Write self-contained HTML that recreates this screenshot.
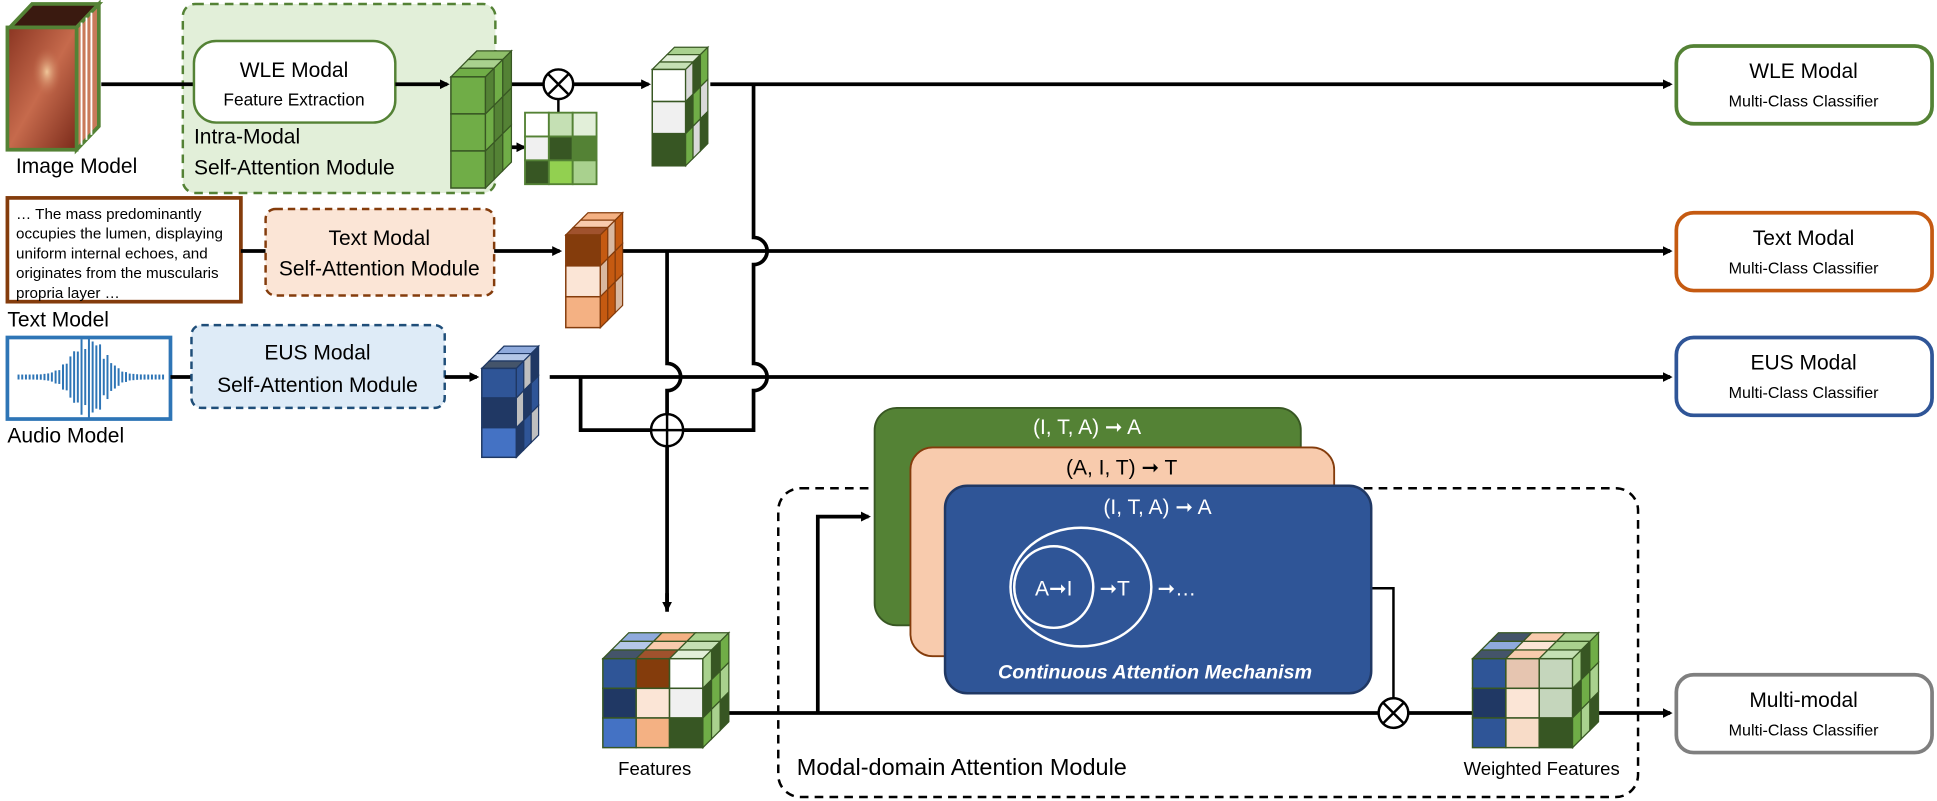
<!DOCTYPE html>
<html><head><meta charset="utf-8"><style>
html,body{margin:0;padding:0;background:#fff;}
svg{display:block;font-family:"Liberation Sans",Arial,sans-serif;}
</style></head><body>
<svg id="s" width="1937" height="801" viewBox="0 0 1568 648" xmlns="http://www.w3.org/2000/svg">
<defs>
<marker id="ar" markerWidth="8" markerHeight="8" refX="6" refY="4" orient="auto" markerUnits="userSpaceOnUse"><path d="M0,0 L8,4 L0,8 z" fill="#000"/></marker>
<linearGradient id="ph" x1="0" y1="0" x2="1" y2="1"><stop offset="0" stop-color="#8a3522"/><stop offset="0.5" stop-color="#c66a4c"/><stop offset="1" stop-color="#7a2a1a"/></linearGradient>
<radialGradient id="sp" cx="0.5" cy="0.5" r="0.5"><stop offset="0" stop-color="#f0c79a"/><stop offset="1" stop-color="#c0674a" stop-opacity="0"/></radialGradient>
</defs>
<rect width="1568" height="648" fill="#fff"/>

<!-- image cube -->
<polygon points="8,22 26,3 80,3 62,22" fill="#3a1a10" stroke="#548235" stroke-width="3"/>
<polygon points="62,22 80,3 80,102 62,121" fill="#c97a5a" stroke="#548235" stroke-width="3"/>
<g stroke="#fff" stroke-width="1.5"><line x1="66" y1="18" x2="66" y2="117"/><line x1="70" y1="14" x2="70" y2="113"/><line x1="74" y1="10" x2="74" y2="109"/></g>
<rect x="6" y="22" width="56" height="99" fill="url(#ph)" stroke="#548235" stroke-width="3"/>
<ellipse cx="38" cy="58" rx="12" ry="20" fill="url(#sp)"/>
<text x="62" y="140" font-size="17" text-anchor="middle">Image Model</text>

<!-- green dashed box -->
<rect x="148" y="3" width="253" height="153" rx="10" fill="#e2efd9" stroke="#548235" stroke-width="2" stroke-dasharray="7,5"/>
<line x1="82" y1="68" x2="157" y2="68" stroke="#000" stroke-width="3"/>
<rect x="157" y="33" width="163" height="66" rx="18" fill="#fff" stroke="#548235" stroke-width="2"/>
<text x="238" y="62" font-size="17" text-anchor="middle">WLE Modal</text>
<text x="238" y="85" font-size="14" text-anchor="middle">Feature Extraction</text>
<line x1="320" y1="68" x2="362" y2="68" stroke="#000" stroke-width="3" marker-end="url(#ar)"/>
<text x="157" y="116" font-size="17">Intra-Modal</text>
<text x="157" y="141" font-size="17">Self-Attention Module</text>
<line x1="396" y1="119" x2="424" y2="119" stroke="#000" stroke-width="3" marker-end="url(#ar)"/>
<line x1="405" y1="68" x2="440" y2="68" stroke="#000" stroke-width="3"/>
<line x1="464" y1="68" x2="525" y2="68" stroke="#000" stroke-width="3" marker-end="url(#ar)"/>
<line x1="452" y1="80" x2="452" y2="91" stroke="#000" stroke-width="2"/>
<circle cx="452" cy="68" r="12" fill="#fff" stroke="#000" stroke-width="2"/>
<path d="M443.5,59.5 L460.5,76.5 M460.5,59.5 L443.5,76.5" stroke="#000" stroke-width="2"/>
<g stroke="#548235" stroke-width="1.5">
<rect x="425" y="91" width="19.3" height="19.3" fill="#fff"/><rect x="444.3" y="91" width="19.3" height="19.3" fill="#c5e0b4"/><rect x="463.6" y="91" width="19.3" height="19.3" fill="#e2efd9"/>
<rect x="425" y="110.3" width="19.3" height="19.3" fill="#f0f0f0"/><rect x="444.3" y="110.3" width="19.3" height="19.3" fill="#375623"/><rect x="463.6" y="110.3" width="19.3" height="19.3" fill="#548235"/>
<rect x="425" y="129.6" width="19.3" height="19.3" fill="#375623"/><rect x="444.3" y="129.6" width="19.3" height="19.3" fill="#92d050"/><rect x="463.6" y="129.6" width="19.3" height="19.3" fill="#a9d18e"/>
</g>

<!-- main lines -->
<g stroke="#000" stroke-width="3" fill="none">
<line x1="575" y1="68" x2="1352" y2="68" marker-end="url(#ar)"/>
<line x1="490" y1="203" x2="1352" y2="203" marker-end="url(#ar)"/>
<line x1="445" y1="305" x2="1352" y2="305" marker-end="url(#ar)"/>
<path d="M610,68 V192 A11,11 0 0 1 610,214 V294 A11,11 0 0 1 610,316 V348 H470 V305"/>
<path d="M540,203 V294 A11,11 0 0 1 540,316 V495" />
<line x1="540" y1="480" x2="540" y2="493" marker-end="url(#ar)"/>
<line x1="575" y1="577" x2="1352" y2="577" marker-end="url(#ar)"/>
<path d="M662,577 V418 H703" marker-end="url(#ar)"/>
<path d="M1108,476 H1128 V565" stroke-width="2"/>
</g>
<circle cx="540" cy="348" r="13" fill="#fff" stroke="#000" stroke-width="2"/>
<path d="M527,348 H553 M540,335 V361" stroke="#000" stroke-width="2"/>

<!-- classifiers -->
<g fill="#fff" stroke-width="3">
<rect x="1357" y="37" width="207" height="63" rx="14" stroke="#548235"/>
<rect x="1357" y="172" width="207" height="63" rx="14" stroke="#c55a11"/>
<rect x="1357" y="273" width="207" height="63" rx="14" stroke="#2f5597"/>
<rect x="1357" y="546" width="207" height="63" rx="14" stroke="#7f7f7f"/>
</g>
<g text-anchor="middle">
<text x="1460" y="63" font-size="17">WLE Modal</text><text x="1460" y="86" font-size="13">Multi-Class Classifier</text>
<text x="1460" y="198" font-size="17">Text Modal</text><text x="1460" y="221" font-size="13">Multi-Class Classifier</text>
<text x="1460" y="299" font-size="17">EUS Modal</text><text x="1460" y="322" font-size="13">Multi-Class Classifier</text>
<text x="1460" y="572" font-size="17">Multi-modal</text><text x="1460" y="595" font-size="13">Multi-Class Classifier</text>
</g>

<!-- text row -->
<rect x="6" y="160" width="189" height="84" fill="#fff" stroke="#843c0c" stroke-width="3"/>
<g font-size="12.3">
<text x="13" y="177">… The mass predominantly</text>
<text x="13" y="193">occupies the lumen, displaying</text>
<text x="13" y="209">uniform internal echoes, and</text>
<text x="13" y="225">originates from the muscularis</text>
<text x="13" y="241">propria layer …</text>
</g>
<text x="6" y="264" font-size="17">Text Model</text>
<line x1="195" y1="203" x2="215" y2="203" stroke="#000" stroke-width="3"/>
<rect x="215" y="169" width="185" height="70" rx="8" fill="#fbe5d6" stroke="#843c0c" stroke-width="2" stroke-dasharray="6,4"/>
<text x="307" y="198" font-size="17" text-anchor="middle">Text Modal</text>
<text x="307" y="223" font-size="17" text-anchor="middle">Self-Attention Module</text>
<line x1="400" y1="203" x2="453" y2="203" stroke="#000" stroke-width="3" marker-end="url(#ar)"/>

<!-- audio row -->
<rect x="6" y="273" width="132" height="66" fill="#fff" stroke="#2e75b6" stroke-width="3"/>
<g id="wave" stroke="#2e75b6" stroke-width="1.6"></g>
<text x="6" y="358" font-size="17">Audio Model</text>
<line x1="138" y1="305" x2="155" y2="305" stroke="#000" stroke-width="3"/>
<rect x="155" y="263" width="205" height="67" rx="8" fill="#deebf7" stroke="#1f4e79" stroke-width="2" stroke-dasharray="6,4"/>
<text x="257" y="291" font-size="17" text-anchor="middle">EUS Modal</text>
<text x="257" y="317" font-size="17" text-anchor="middle">Self-Attention Module</text>
<line x1="360" y1="305" x2="386" y2="305" stroke="#000" stroke-width="3" marker-end="url(#ar)"/>

<!-- modal-domain box -->
<rect x="630" y="395" width="696" height="250" rx="18" fill="none" stroke="#000" stroke-width="2" stroke-dasharray="7,5"/>
<text x="645" y="627" font-size="19">Modal-domain Attention Module</text>
<text x="530" y="627" font-size="15" text-anchor="middle">Features</text>
<text x="1248" y="627" font-size="15" text-anchor="middle">Weighted Features</text>

<rect x="708" y="330" width="345" height="176" rx="18" fill="#548235" stroke="#385723" stroke-width="1.5"/>
<text x="880" y="351" font-size="17" fill="#fff" text-anchor="middle">(I, T, A) ➞ A</text>
<rect x="737" y="362" width="343" height="169" rx="18" fill="#f8cbad" stroke="#843c0c" stroke-width="1.5"/>
<text x="908" y="384" font-size="17" fill="#000" text-anchor="middle">(A, I, T) ➞ T</text>
<rect x="765" y="393" width="345" height="168" rx="18" fill="#2f5597" stroke="#203864" stroke-width="2"/>
<text x="937" y="416" font-size="17" fill="#fff" text-anchor="middle">(I, T, A) ➞ A</text>
<ellipse cx="875" cy="475" rx="57" ry="48" fill="none" stroke="#fff" stroke-width="2"/>
<ellipse cx="853" cy="475" rx="32" ry="33" fill="none" stroke="#fff" stroke-width="2"/>
<text x="853" y="482" font-size="17" fill="#fff" text-anchor="middle">A➞I</text>
<text x="890" y="482" font-size="17" fill="#fff">➞T</text>
<text x="937" y="482" font-size="17" fill="#fff">➞…</text>
<text x="935" y="549" font-size="16" fill="#fff" font-weight="bold" font-style="italic" text-anchor="middle">Continuous Attention Mechanism</text>

<circle cx="1128" cy="577" r="12" fill="#fff" stroke="#000" stroke-width="2"/>
<path d="M1119.5,568.5 L1136.5,585.5 M1136.5,568.5 L1119.5,585.5" stroke="#000" stroke-width="2"/>

<g id="cubes"></g>
</svg>
<script>
var NS="http://www.w3.org/2000/svg";
function el(p,t,a){var e=document.createElementNS(NS,t);for(var k in a)e.setAttribute(k,a[k]);p.appendChild(e);return e;}
var g=document.getElementById("cubes");
function cube(x,y,w,h,d,cols,stroke){
  var n=cols.length;
  cols.forEach(function(c,ci){
    var cx=x+ci*w;
    for(var k=2;k>=0;k--){
      var ox=k*d,oy=-k*d;
      el(g,"polygon",{points:[cx+ox,y+oy,cx+w+ox,y+oy,cx+w+ox+d,y+oy-d,cx+ox+d,y+oy-d].join(","),fill:c.top[k],stroke:stroke,"stroke-width":1});
    }
    for(var r=0;r<3;r++) el(g,"rect",{x:cx,y:y+r*h,width:w,height:h,fill:c.front[r],stroke:stroke,"stroke-width":1.2});
  });
  var c=cols[n-1],sx=x+n*w;
  for(var r=0;r<3;r++)for(var k=0;k<3;k++){
    var yy=y+r*h;
    el(g,"polygon",{points:[sx+k*d,yy-k*d,sx+(k+1)*d,yy-(k+1)*d,sx+(k+1)*d,yy+h-(k+1)*d,sx+k*d,yy+h-k*d].join(","),fill:c.side[(r+k)%3],stroke:stroke,"stroke-width":1});
  }
}
cube(365,62,28,30,7,[{front:["#70ad47","#70ad47","#70ad47"],top:["#70ad47","#a9d18e","#8fbf6a"],side:["#548235","#70ad47","#548235"]}],"#385723");
cube(528,56,27,26,6,[{front:["#ffffff","#f0f0f0","#375623"],top:["#c5e0b4","#e2efd9","#a9d18e"],side:["#d9d9d9","#375623","#70ad47"]}],"#385723");
cube(458,190,28,25,6,[{front:["#843c0c","#fbe5d6","#f4b183"],top:["#a0522d","#f8cbad","#f4b183"],side:["#c55a11","#d9b8a0","#c55a11"]}],"#843c0c");
cube(390,298,28,24,6,[{front:["#2f5597","#203864","#4472c4"],top:["#44546a","#b4c7e7","#8faadc"],side:["#2f5597","#bfbfbf","#203864"]}],"#1f3864");
var B={front:["#2f5597","#203864","#4472c4"],top:["#44546a","#b4c7e7","#8faadc"],side:[]};
var O={front:["#843c0c","#fbe5d6","#f4b183"],top:["#a0522d","#f8cbad","#f4b183"],side:[]};
var G={front:["#ffffff","#f0f0f0","#375623"],top:["#e2efd9","#c5e0b4","#a9d18e"],side:["#a9d18e","#375623","#70ad47"]};
cube(488,533,27,24,7,[B,O,G],"#385723");
var B2={front:["#2f5597","#203864","#2f5597"],top:["#44546a","#8faadc","#44546a"],side:[]};
var O2={front:["#e6c5b0","#fbe5d6","#f8dcc8"],top:["#f8cbad","#fbe5d6","#f8cbad"],side:[]};
var G2={front:["#c5d6bc","#c5d6bc","#375623"],top:["#c5e0b4","#a9d18e","#a9d18e"],side:["#a9d18e","#375623","#70ad47"]};
cube(1192,533,27,24,7,[B2,O2,G2],"#385723");
var w=document.getElementById("wave");
for(var i=0;i<40;i++){var x=15+i*3;var t=(x-72)/18;var h=2+32*Math.exp(-t*t)*(0.6+0.4*Math.abs(Math.cos(i*1.3)));el(w,"line",{x1:x,y1:305-h,x2:x,y2:305+h});}
</script>
</body></html>
